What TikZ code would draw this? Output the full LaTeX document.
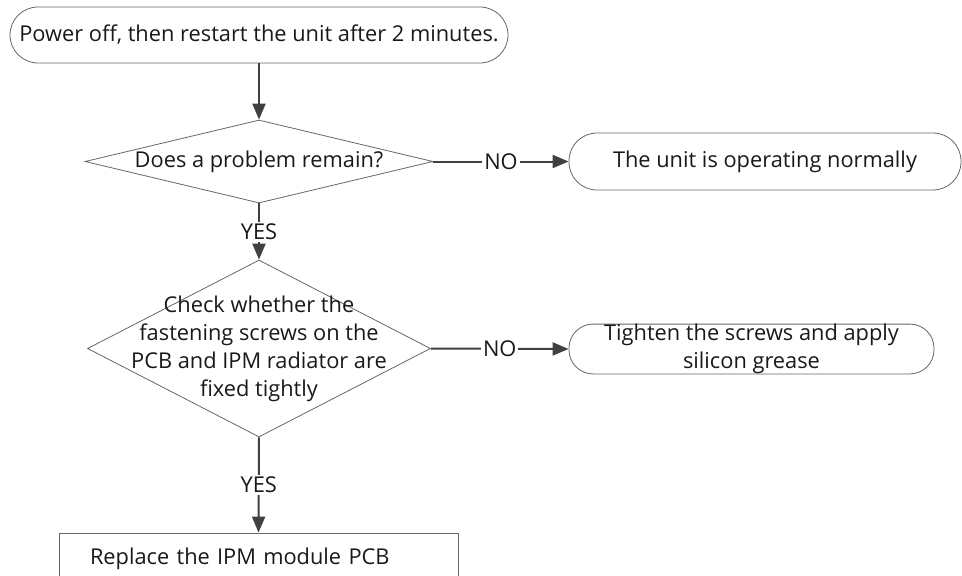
\documentclass[tikz,border=0pt]{standalone}
\usepackage{fontspec}
\setmainfont{Open Sans}
\usetikzlibrary{shapes.geometric,arrows.meta}

\begin{document}
\begin{tikzpicture}[x=1pt,y=-1pt,
		font=\fontsize{21.8}{28}\selectfont,
		box/.style={draw=black!60,line width=0.8pt,inner sep=0pt,text=black!90},
		term/.style={box,rounded corners=#1},
		dec/.style={box,diamond,aspect=#1},
		arr/.style={draw=black!75,line width=2pt,-{Triangle[length=16pt,width=13pt]}},
		lbl/.style={fill=white,inner sep=2pt,text=black!90}]

		\useasboundingbox (0,0) rectangle (962,576);

		\node[term=28pt,minimum width=498pt,minimum height=56pt] (start) at (259,35) {Power off, then restart the unit after 2 minutes.};
		\node[dec=4.2,minimum width=348pt,minimum height=83pt] (q1) at (259,161.5) {Does a problem remain?};
		\node[term=28pt,minimum width=392pt,minimum height=57pt] (ok) at (765,161.5) {The unit is operating normally};

		\node[dec=1.94,minimum width=343pt,minimum height=177pt] (q2) at (259,348.5) {};
		\node[align=center,inner sep=0pt,text=black!90] (q2text) at (q2.center) {Check whether the\\fastening screws on the\\PCB and IPM radiator are\\fixed tightly};
		\node[term=24pt,minimum width=365pt,minimum height=48pt,align=center] (fix) at (751.5,349) {Tighten the screws and apply\\silicon grease};

		\node[box,inner xsep=31pt,text width=337pt,minimum height=52pt,align=left] (pcb) at (258.5,559) {Replace the IPM module PCB};

		\draw[arr] (start.south) -- (q1.north);
		\draw[arr] (q1.east) -- node[lbl] {NO} (ok.west);
		\draw[arr] (q1.south) -- node[lbl] {YES} (q2.north);
		\draw[arr] (q2.east) -- node[lbl] {NO} (fix.west);
		\draw[arr] (q2.south) -- node[lbl] {YES} (pcb.north);

\end{tikzpicture}
\end{document}
